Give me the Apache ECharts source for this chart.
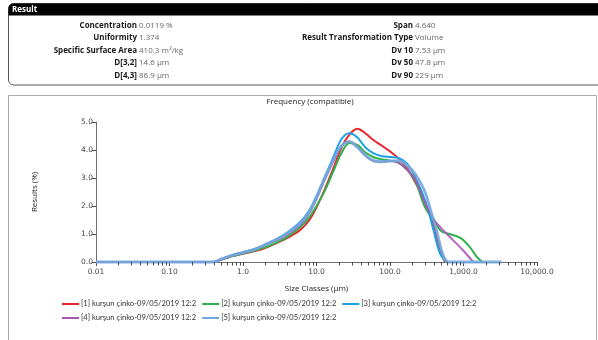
<!DOCTYPE html>
<html><head><meta charset="utf-8">
<script src="https://cdn.jsdelivr.net/npm/echarts@6/dist/echarts.min.js"></script>
<style>html,body{margin:0;padding:0;background:#fff}#c{width:598px;height:340px}</style>
</head><body><div id="c"></div>
<script>
// ---- data ----
const seriesNames = [
  "[1] kurşun çinko-09/05/2019 12:24",
  "[2] kurşun çinko-09/05/2019 12:24",
  "[3] kurşun çinko-09/05/2019 12:25",
  "[4] kurşun çinko-09/05/2019 12:25",
  "[5] kurşun çinko-09/05/2019 12:25"
];
const seriesColors = ["#e8242c", "#2fb24c", "#1ea2e6", "#a855b8", "#72a8dc"];

const sizes1 = [0.01,0.4,0.5,0.7,1,1.5,2,3,4,6,8,10,13,17,22,28,36,46,60,78,100,130,170,220,300,390,480,560];
const vals1  = [0,0,0.08,0.2,0.3,0.4,0.5,0.7,0.86,1.14,1.5,1.95,2.6,3.35,4.1,4.55,4.76,4.6,4.35,4.15,3.95,3.7,3.35,2.85,2.15,1.35,0.45,0];

const sizes2 = [0.01,0.4,0.5,0.7,1,1.5,2,3,4,6,8,10,13,17,22,28,36,46,60,78,100,130,170,220,300,390,500,650,850,1000,1250,1500,1800];
const vals2  = [0,0,0.08,0.2,0.3,0.42,0.52,0.72,0.9,1.24,1.6,2.0,2.55,3.25,3.9,4.25,4.18,3.92,3.74,3.66,3.62,3.55,3.3,2.9,1.95,1.5,1.1,1.0,0.9,0.78,0.5,0.2,0];

const sizes3 = [0.01,0.4,0.5,0.7,1,1.5,2,3,4,6,8,10,13,17,22,28,36,46,60,78,100,130,170,230,310,390,480,590];
const vals3  = [0,0,0.1,0.24,0.35,0.48,0.62,0.85,1.05,1.43,1.85,2.35,3.05,3.75,4.4,4.6,4.45,4.1,3.88,3.78,3.75,3.72,3.52,2.93,2.1,1.14,0.3,0];

const sizes4 = [0.01,0.4,0.5,0.7,1,1.5,2,3,4,6,8,10,13,17,22,28,36,46,60,78,100,130,170,220,300,400,500,720,1000,1350];
const vals4  = [0,0,0.09,0.22,0.33,0.46,0.6,0.8,0.98,1.32,1.75,2.25,2.95,3.6,4.15,4.3,4.1,3.8,3.6,3.58,3.62,3.55,3.3,2.95,2.1,1.5,1.2,0.78,0.4,0];

const sizes5 = [0.01,0.4,0.5,0.7,1,1.5,2,3,4,6,8,10,13,17,22,28,36,46,60,78,100,130,170,220,300,380,430,520,630,3300];
const vals5  = [0,0,0.1,0.23,0.34,0.47,0.62,0.83,1.02,1.38,1.8,2.3,3.0,3.65,4.15,4.3,4.1,3.82,3.62,3.58,3.6,3.62,3.45,3.15,2.5,1.6,1.14,0.3,0,0];

const xTickExp = [-2,-1,0,1,2,3,4];
const xTickLabels = ["0.01","0.10","1.0","10.0","100.0","1,000.0","10,000.0"];
const xMinorTicks = [];
for (let e = -2; e < 4; e++) for (let k = 2; k <= 9; k++) xMinorTicks.push(k * Math.pow(10, e));
const yTicks = [0,1,2,3,4,5];

const resultLeftLabels = ["Concentration","Uniformity","Specific Surface Area","D[3,2]","D[4,3]"];
const resultLeftValues = ["0.0119 %","1.374","410.3 m²/kg","14.6 µm","86.9 µm"];
const resultRightLabels = ["Span","Result Transformation Type","Dv 10","Dv 50","Dv 90"];
const resultRightValues = ["4.640","Volume","7.53 µm","47.8 µm","229 µm"];

// ---- chart ----
const allSizes = [sizes1,sizes2,sizes3,sizes4,sizes5];
const allVals = [vals1,vals2,vals3,vals4,vals5];
const FONT = "Open Sans";
const LEGFONT = "Lato";
const TICKFONT = "DejaVu Sans";
const AXCOL = '#6e6e6e';
const TICKCOL = '#4a4a4a';

const lineSeries = seriesNames.map((n, i) => ({
  name: n, type: 'line', smooth: 0.35, showSymbol: false, symbol: 'none',
  data: allSizes[i].map((s, j) => [s, allVals[i][j]]),
  lineStyle: { color: seriesColors[i], width: i === 4 ? 2.8 : 2, opacity: i >= 3 ? 0.9 : 1 },
  itemStyle: { color: seriesColors[i] },
  z: 3 + i, clip: false
}));

const graphics = [];
// Result panel
graphics.push({ type: 'rect', shape: { x: 8.5, y: 3.5, width: 620, height: 81.5, r: 5 },
  style: { fill: '#fff', stroke: '#555', lineWidth: 1 }, z: 0 });
graphics.push({ type: 'rect', shape: { x: 8.5, y: 3.5, width: 620, height: 12, r: [5,0,0,0] },
  style: { fill: '#000' }, z: 1 });
graphics.push({ type: 'text', x: 12, y: 9.5, style: { text: 'Result', fill: '#fff',
  font: 'bold 8px "' + FONT + '"', textVerticalAlign: 'middle' }, z: 2 });
const rowY = [25.5, 38, 50.5, 63, 75.5];
rowY.forEach((y, i) => {
  graphics.push({ type: 'text', x: 137, y: y, style: { text: resultLeftLabels[i], fill: '#1a1a1a',
    font: 'bold 8px "' + FONT + '"', textAlign: 'right', textVerticalAlign: 'middle' }, z: 2 });
  graphics.push({ type: 'text', x: 139, y: y, style: { text: resultLeftValues[i], fill: '#666',
    font: '8px "' + FONT + '"', textAlign: 'left', textVerticalAlign: 'middle' }, z: 2 });
  graphics.push({ type: 'text', x: 413, y: y, style: { text: resultRightLabels[i], fill: '#1a1a1a',
    font: 'bold 8px "' + FONT + '"', textAlign: 'right', textVerticalAlign: 'middle' }, z: 2 });
  graphics.push({ type: 'text', x: 415, y: y, style: { text: resultRightValues[i], fill: '#666',
    font: '8px "' + FONT + '"', textAlign: 'left', textVerticalAlign: 'middle' }, z: 2 });
});
// Chart panel
graphics.push({ type: 'rect', shape: { x: 8.5, y: 95.5, width: 588, height: 260 },
  style: { fill: 'none', stroke: '#aaa', lineWidth: 1 }, z: 0 });
graphics.push({ type: 'text', x: 310, y: 101.5, style: { text: 'Frequency (compatible)', fill: '#222',
  font: '8px "' + FONT + '"', textAlign: 'center', textVerticalAlign: 'middle' }, z: 2 });

const option = {
  animation: false,
  backgroundColor: '#fff',
  graphic: graphics,
  grid: { left: 96, right: 61, top: 122, bottom: 78, containLabel: false },
  legend: {
    data: seriesNames, left: 62, top: 300, width: 450, orient: 'horizontal',
    itemWidth: 17, itemHeight: 2, itemGap: 6, icon: 'rect', padding: 0,
    formatter: name => name.slice(0, 32),
    textStyle: { fontFamily: LEGFONT, fontSize: 7.6, color: '#333', height: 10, padding: [0,0,0,-3] }
  },
  xAxis: {
    type: 'log', logBase: 10, min: 0.01, max: 10000, splitNumber: 6,
    name: 'Size Classes (µm)', nameLocation: 'middle', nameGap: 23,
    nameTextStyle: { fontFamily: FONT, fontSize: 8, color: '#222' },
    axisLine: { lineStyle: { color: AXCOL, width: 1 } },
    axisTick: { show: true, length: 4, lineStyle: { color: TICKCOL, width: 1 } },
    splitLine: { show: false }, minorTick: { show: false },
    axisLabel: { fontFamily: TICKFONT, fontSize: 7.5, color: '#444', margin: 6,
      formatter: v => { const e = Math.round(Math.log10(v)); const k = xTickExp.indexOf(e); return k >= 0 ? xTickLabels[k] : ''; } }
  },
  yAxis: {
    type: 'value', min: yTicks[0], max: yTicks[yTicks.length - 1], interval: 1,
    name: 'Results (%)', nameLocation: 'middle', nameGap: 57, nameRotate: 90,
    nameTextStyle: { fontFamily: FONT, fontSize: 8, color: '#222' },
    axisLine: { show: true, lineStyle: { color: AXCOL, width: 1 } },
    axisTick: { show: true, length: 4, lineStyle: { color: TICKCOL } },
    splitLine: { show: false },
    axisLabel: { fontFamily: TICKFONT, fontSize: 7.5, color: '#444', margin: 3, formatter: v => v.toFixed(1) }
  },
  series: lineSeries
};
const chart = echarts.init(document.getElementById('c'), null, { renderer: 'canvas' });
chart.setOption(option);

// minor ticks placed through the chart's own log scale
const tickGraphics = xMinorTicks.map(v => {
  const p = chart.convertToPixel({ xAxisIndex: 0, yAxisIndex: 0 }, [v, 0]);
  const x = Math.round(p[0]) + 0.5;
  const y = Math.round(p[1]);
  return { type: 'line', shape: { x1: x, y1: y, x2: x, y2: y + 3.5 },
    style: { stroke: TICKCOL, lineWidth: 1 }, z: 10, silent: true };
});
chart.setOption({ graphic: { elements: graphics.concat(tickGraphics) } });
</script></body></html>
